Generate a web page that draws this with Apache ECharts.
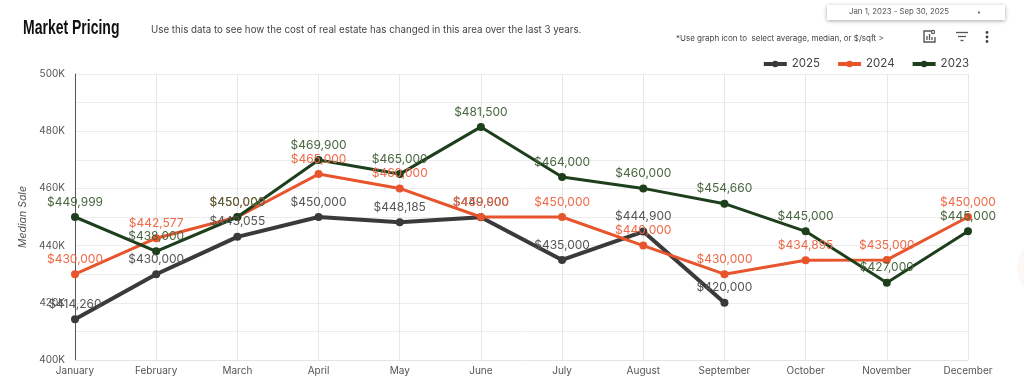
<!DOCTYPE html>
<html>
<head>
<meta charset="utf-8">
<style>
  html, body { margin: 0; padding: 0; background: #fff; }
  #chart { width: 1024px; height: 388px; }
</style>
<script src="https://cdn.jsdelivr.net/npm/echarts@6/dist/echarts.min.js"></script>
</head>
<body>
<div id="chart"></div>
<script>
const months = ["January", "February", "March", "April", "May", "June", "July", "August", "September", "October", "November", "December"];
const sales2025 = [414260, 430000, 443055, 450000, 448185, 449900, 435000, 444900, 420000];
const sales2024 = [430000, 442577, 450000, 465000, 460000, 450000, 450000, 440000, 430000, 434895, 435000, 450000];
const sales2023 = [449999, 438000, 450000, 469900, 465000, 481500, 464000, 460000, 454660, 445000, 427000, 445000];

const font = "Inter, 'Noto Sans', sans-serif";

const makeSeries = (name, data, color, width, labelColor) => ({
  name,
  type: "line",
  data,
  symbol: "circle",
  symbolSize: 8,
  lineStyle: { color, width },
  itemStyle: { color },
  label: {
    show: true,
    position: "top",
    distance: 5,
    color: labelColor,
    fontFamily: font,
    fontSize: 12,
    formatter: (p) => "$" + p.value.toLocaleString("en-US"),
  },
});

const chart = echarts.init(document.getElementById("chart"));

chart.setOption({
  animation: false,
  grid: { left: 75, right: 56, top: 74, bottom: 28 },
  legend: {
    data: ["2025", "2024", "2023"],
    right: 55,
    top: 58,
    padding: 0,
    itemWidth: 23,
    itemHeight: 8,
    itemGap: 16,
    lineStyle: { width: 4 },
    textStyle: { color: "#444", fontFamily: font, fontSize: 11.5 },
  },
  xAxis: {
    type: "category",
    data: months,
    boundaryGap: false,
    axisLine: { show: true, lineStyle: { color: "#e4e4e4" } },
    axisTick: { show: false },
    axisLabel: { color: "#555", fontFamily: font, fontSize: 10, margin: 6, interval: 0 },
    splitLine: { show: true, lineStyle: { color: "#e6e6e6", width: 1 } },
  },
  yAxis: {
    type: "value",
    min: 400000,
    max: 500000,
    interval: 10000,
    name: "Median Sale",
    nameLocation: "middle",
    nameGap: 45,
    nameTextStyle: { color: "#555", fontFamily: font, fontSize: 10.5, fontStyle: "italic" },
    axisLine: { show: true, lineStyle: { color: "#555" } },
    axisTick: { show: false },
    axisLabel: {
      color: "#555",
      fontFamily: font,
      fontSize: 10,
      margin: 10,
      formatter: (v) => (v % 20000 === 0 ? v / 1000 + "K" : ""),
    },
    splitLine: { show: true, lineStyle: { color: "#ececec", width: 1 } },
  },
  series: [
    makeSeries("2025", sales2025, "#3a3a3a", 4, "#555"),
    makeSeries("2024", sales2024, "#e8542c", 3, "#ee6a48"),
    makeSeries("2023", sales2023, "#1d3f1c", 3, "#48663f"),
  ],
  graphic: [
    { type: "text", x: 23, y: 18, scaleX: 0.7, style: { text: "Market Pricing", fill: "#111", font: "bold 20px 'Liberation Sans', sans-serif" } },
    { type: "text", left: 151, top: 25, style: { text: "Use this data to see how the cost of real estate has changed in this area over the last 3 years.", fill: "#444", font: "9.75px " + font } },
    {
      type: "rect",
      shape: { x: 827, y: 5, width: 178, height: 15 },
      style: { fill: "#fff", shadowBlur: 4, shadowColor: "rgba(0,0,0,0.35)", shadowOffsetY: 1 },
    },
    { type: "text", left: 849, top: 8, style: { text: "Jan 1, 2023 - Sep 30, 2025", fill: "#555", font: "7.8px " + font } },
    { type: "circle", shape: { cx: 979, cy: 12.5, r: 1 }, style: { fill: "#444" } },
    { type: "text", left: 676, top: 35, style: { text: "*Use graph icon to  select average, median, or $/sqft >", fill: "#444", font: "8px " + font } },
    // graph icon
    { type: "polyline", shape: { points: [[932, 31], [924, 31], [924, 42], [935, 42], [935, 37]] }, style: { stroke: "#555", lineWidth: 1.4, fill: "none" } },
    { type: "circle", shape: { cx: 933, cy: 32, r: 1.6 }, style: { stroke: "#555", lineWidth: 1.2, fill: "#fff" } },
    { type: "line", shape: { x1: 927, y1: 40, x2: 927, y2: 36 }, style: { stroke: "#555", lineWidth: 1.3 } },
    { type: "line", shape: { x1: 929.5, y1: 40, x2: 929.5, y2: 34 }, style: { stroke: "#555", lineWidth: 1.3 } },
    { type: "line", shape: { x1: 932, y1: 40, x2: 932, y2: 37 }, style: { stroke: "#555", lineWidth: 1.3 } },
    // filter icon
    { type: "line", shape: { x1: 956, y1: 32.5, x2: 968, y2: 32.5 }, style: { stroke: "#555", lineWidth: 1.3 } },
    { type: "line", shape: { x1: 958, y1: 36.5, x2: 966, y2: 36.5 }, style: { stroke: "#555", lineWidth: 1.3 } },
    { type: "line", shape: { x1: 960.5, y1: 40.5, x2: 963.5, y2: 40.5 }, style: { stroke: "#555", lineWidth: 1.3 } },
    // more icon
    { type: "circle", shape: { cx: 987, cy: 32.5, r: 1.4 }, style: { fill: "#444" } },
    { type: "circle", shape: { cx: 987, cy: 37, r: 1.4 }, style: { fill: "#444" } },
    { type: "circle", shape: { cx: 987, cy: 41.5, r: 1.4 }, style: { fill: "#444" } },
    // faint circle cut off by the right edge
    { type: "circle", shape: { cx: 1047, cy: 268, r: 30 }, style: { fill: "#fbf8f6" } },
  ],
});
</script>
</body>
</html>
